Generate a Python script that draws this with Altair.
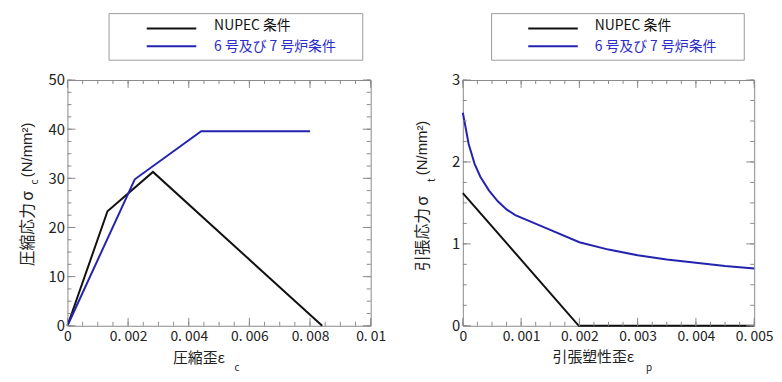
import altair as alt
import pandas as pd

# ---------------- data ----------------
series_names = ["NUPEC 条件", "6 号及び 7 号炉条件"]
series_colors = ["#111111", "#2323b0"]

# compressive stress-strain (left)
comp_nupec_strain = [0.0, 0.00132, 0.00282, 0.00840]
comp_nupec_stress = [0.0, 23.3, 31.3, 0.0]
comp_kk_strain = [0.0, 0.00222, 0.00441, 0.00800]
comp_kk_stress = [0.0, 29.8, 39.6, 39.6]

# tensile stress - plastic strain (right)
ten_nupec_strain = [0.0, 0.00199, 0.005]
ten_nupec_stress = [1.62, 0.0, 0.0]
ten_kk_strain = [0.0, 0.0001, 0.0002, 0.0003, 0.00045, 0.0006, 0.00075, 0.0009,
                 0.0015, 0.002, 0.0025, 0.003, 0.0035, 0.004, 0.0045, 0.005]
ten_kk_stress = [2.6, 2.22, 1.98, 1.82, 1.65, 1.52, 1.42, 1.35,
                 1.17, 1.02, 0.93, 0.86, 0.81, 0.77, 0.73, 0.70]

comp_x_ticks = [0, 0.002, 0.004, 0.006, 0.008, 0.01]
comp_y_ticks = [0, 10, 20, 30, 40, 50]
ten_x_ticks = [0, 0.001, 0.002, 0.003, 0.004, 0.005]
ten_y_ticks = [0, 1, 2, 3]

comp_x_minor = [round(i * 0.0005, 6) for i in range(21)]
comp_y_minor = [i * 2.5 for i in range(21)]
ten_x_minor = [round(i * 0.00025, 6) for i in range(21)]
ten_y_minor = [i * 0.25 for i in range(13)]

# ---------------- style ----------------
FONT_JP = "Noto Sans CJK JP"
FONT_UNIT = "Liberation Sans, Noto Sans CJK JP"
AX = "#8a8a8a"
TXT = "#222222"
one = pd.DataFrame({"a": [0]})


def make_df(xs_lists, ys_lists):
    rows = []
    for name, xs, ys in zip(series_names, xs_lists, ys_lists):
        for i, (x, y) in enumerate(zip(xs, ys)):
            rows.append({"series": name, "x": x, "y": y, "i": i})
    return pd.DataFrame(rows)


def txt(text, x, y, size=15, angle=0, align="left", baseline="middle",
        color=TXT, font=FONT_JP):
    return alt.Chart(one).mark_text(
        text=text, fontSize=size, angle=angle, align=align, baseline=baseline,
        color=color, font=font
    ).encode(x=alt.value(x), y=alt.value(y))


def panel(df, xdom, ydom, xticks, yticks, xminor, yminor, W, H,
          xtitle, xsub, ytitle, ysub, lg):
    xs = alt.Scale(domain=xdom, nice=False, zero=False)
    ys = alt.Scale(domain=ydom, nice=False, zero=False)
    xaxis = alt.Axis(values=xticks, labelExpr="replace(toString(datum.value), '.', '. ')",
                     ticks=False, domain=False, grid=False, title=None,
                     labelFont=FONT_JP, labelFontSize=14, labelColor=TXT,
                     labelPadding=4, labelFlush=False, labelOverlap=False, labelBound=False)
    yaxis = alt.Axis(values=yticks, format="d", ticks=False, domain=False, grid=False,
                     title=None, labelFont=FONT_JP, labelFontSize=15, labelColor=TXT,
                     labelPadding=3, labelFlush=False, labelOverlap=False, labelBound=False)
    lines = alt.Chart(df).mark_line(strokeWidth=2).encode(
        x=alt.X("x:Q", scale=xs, axis=xaxis),
        y=alt.Y("y:Q", scale=ys, axis=yaxis),
        color=alt.Color("series:N", scale=alt.Scale(domain=series_names, range=series_colors),
                        legend=None),
        order="i:Q",
    )
    layers = [lines]
    for vals, L in ((xminor, 4), (xticks, 8)):
        d = pd.DataFrame({"v": vals})
        layers.append(alt.Chart(d).mark_rule(color=AX, strokeWidth=1).encode(
            x=alt.X("v:Q", scale=xs, axis=xaxis), y=alt.value(H), y2=alt.value(H - L)))
        layers.append(alt.Chart(d).mark_rule(color=AX, strokeWidth=1).encode(
            x=alt.X("v:Q", scale=xs, axis=xaxis), y=alt.value(0), y2=alt.value(L)))
    for vals, L in ((yminor, 4), (yticks, 8)):
        d = pd.DataFrame({"v": vals})
        layers.append(alt.Chart(d).mark_rule(color=AX, strokeWidth=1).encode(
            y=alt.Y("v:Q", scale=ys, axis=yaxis), x=alt.value(0), x2=alt.value(L)))
        layers.append(alt.Chart(d).mark_rule(color=AX, strokeWidth=1).encode(
            y=alt.Y("v:Q", scale=ys, axis=yaxis), x=alt.value(W), x2=alt.value(W - L)))

    # axis titles (with subscripts)
    layers.append(txt(xtitle, xsub["main_x"], xsub["main_y"], align="right"))
    layers.append(txt(xsub["s"], xsub["sx"], xsub["sy"], size=10, align="center"))
    layers.append(txt(ytitle, ysub["main_x"], ysub["main_y"], size=16, angle=270, align="left"))
    layers.append(txt("σ", ysub["main_x"], ysub["sig_y"], size=16, angle=270, align="center"))
    layers.append(txt(ysub["s"], ysub["sx"], ysub["sy"], size=10, angle=270, align="center"))
    layers.append(txt("(N/mm²)", ysub["ux"], ysub["uy"], size=15, angle=270, align="left",
                      font=FONT_UNIT))

    # legend box
    layers.append(alt.Chart(one).mark_rect(fill="white", stroke="#9a9a9a", strokeWidth=1).encode(
        x=alt.value(lg["x0"]), x2=alt.value(lg["x1"]), y=alt.value(-67), y2=alt.value(-20)))
    for k, (name, col) in enumerate(zip(series_names, series_colors)):
        ly = [-52, -34][k]
        ty = [-54, -33][k]
        layers.append(alt.Chart(one).mark_rule(color=col, strokeWidth=2).encode(
            x=alt.value(lg["l0"]), x2=alt.value(lg["l1"]), y=alt.value(ly)))
        layers.append(txt(name, lg["t"], ty, size=14, color=("#111111" if k == 0 else "#2b2bc8")))
    return alt.layer(*layers).properties(width=W, height=H)


left = panel(
    make_df([comp_nupec_strain, comp_kk_strain], [comp_nupec_stress, comp_kk_stress]),
    [0, 0.01], [0, 50], comp_x_ticks, comp_y_ticks, comp_x_minor, comp_y_minor, 306, 248,
    "圧縮歪ε", {"main_x": 159, "main_y": 281, "s": "c", "sx": 171, "sy": 291},
    "圧縮応力", {"main_x": -40, "main_y": 188, "sig_y": 117, "s": "c", "sx": -33, "sy": 103,
                "ux": -41, "uy": 98},
    {"x0": 42, "x1": 298, "l0": 80, "l1": 130, "t": 148},
)

right = panel(
    make_df([ten_nupec_strain, ten_kk_strain], [ten_nupec_stress, ten_kk_stress]),
    [0, 0.005], [0, 3], ten_x_ticks, ten_y_ticks, ten_x_minor, ten_y_minor, 294, 248,
    "引張塑性歪ε", {"main_x": 173, "main_y": 280, "s": "p", "sx": 188, "sy": 291},
    "引張応力", {"main_x": -40, "main_y": 193, "sig_y": 122, "s": "t", "sx": -31, "sy": 101,
                "ux": -41, "uy": 96},
    {"x0": 29, "x1": 284, "l0": 66, "l1": 116, "t": 133},
)

chart = alt.hconcat(left, right, spacing=93, bounds="flush").properties(
    padding={"left": 11, "top": 3, "right": 0, "bottom": 0}
).configure_view(stroke=AX, strokeWidth=1)

chart.save("out.html", embed_options={"renderer": "svg", "actions": False})
